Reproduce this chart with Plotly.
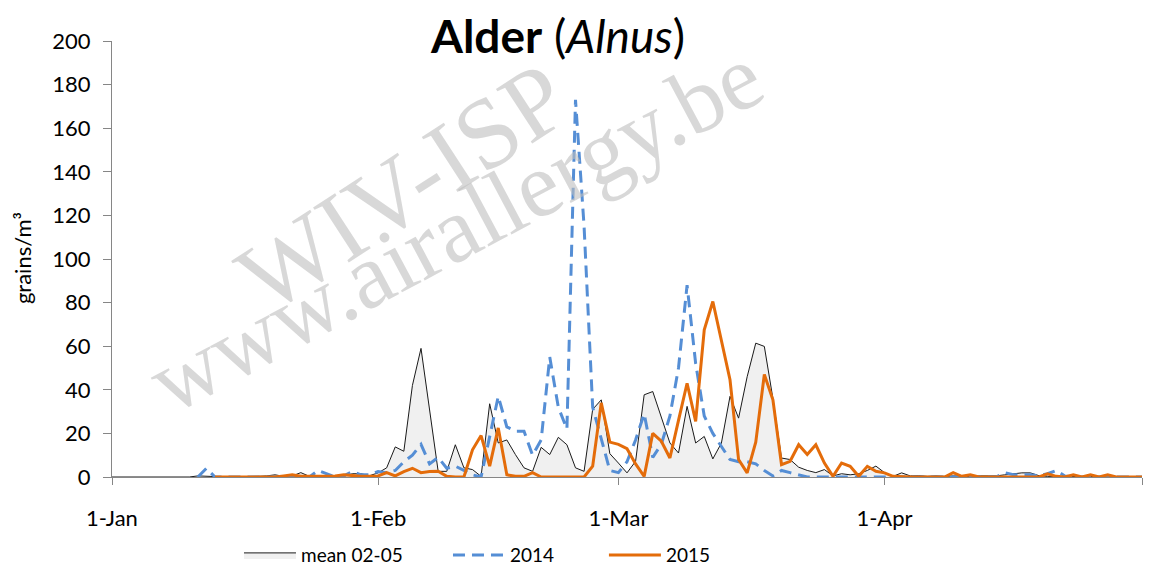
import pandas as pd
import plotly.graph_objects as go

# daily values, 1 Jan .. 1 May (grains/m3)
days = pd.date_range("2015-01-01", "2015-05-01", freq="D")

mean_02_05 = [
    0, 0, 0, 0, 0, 0, 0, 0, 0, 0,
    0.5, 0.5, 0.2, 0, 0, 0, 0, 0.3, 0.5, 1.0,
    0.3, 0.5, 2.0, 0.3, 0.5, 0.5, 0.4, 0.3, 1.5, 1.5,
    0.6, 1.9, 4.2, 13.8, 11.8, 42, 59, 30, 2.6, 2.6,
    14.8, 4.2, 3.4, 0.3, 33.6, 15.6, 17, 10.3, 4.2, 2.6,
    13.6, 10.3, 18.2, 14.8, 4.2, 2.6, 31, 35.4, 10.7, 6.4,
    1.9, 7.2, 37.7, 39.2, 27.8, 15.6, 11, 32.4, 15.6, 18.6,
    8.3, 15.6, 37, 27, 46, 61.4, 59.9, 36, 8.7, 8,
    4.5, 3, 2, 3.4, 0.5, 1.5, 1, 1.5, 3, 5,
    2, 0.3, 1.9, 0.5, 0.6, 0.3, 0.5, 0.3, 0.5, 0.3,
    0.3, 0.5, 0.6, 0.5, 1, 1.5, 1.9, 1.9, 0.6, 0.3,
    0.3, 0.2, 0.3, 0.2, 0.3, 0.2, 0.2, 0.3, 0.2, 0.2,
    0.2,
]

y2014 = [
    None, None, None, None, None, None, None, None, None, None,
    0, 4, 0, 0, 0, 0, 0, 0, 0, 0,
    0, 0, 0, 0, 3, 1.5, 0, 0.5, 2.5, 1,
    1, 2.5, 2, 3, 7, 10, 15, 6, 9, 4,
    5, 3, 1, 0, 18, 37, 23, 21, 21, 10,
    17, 55, 32, 22, 173, 115, 32, 17, 3, 2,
    7, 17, 29, 9, 15, 28, 50, 88, 52, 28,
    20, 14, 8, 7, 7, 6, 3, 0.5, 3, 2,
    1, 0, 0, 0, 0, 0, 0, 0, 0, 0,
    0, 0, 0, 0, 0, 0, 0, 0, 0, 0,
    0, 0, 0, 0, 2, 1, 1, 1, 0.5, 1.5,
    3, 0.5, 0, 0, 0, 0, 0, 0, 0, 0,
    0,
]

y2015 = [
    None, None, None, None, None, None, None, None, None, None,
    None, None, 0, 0, 0, 0, 0, 0, 0, 0,
    0.5, 1, 0.3, 0.3, 0.3, 0.3, 0.5, 1, 0.5, 0.3,
    0.3, 0.5, 2, 0.5, 2.5, 4, 2, 2.5, 2.6, 0.3,
    0, 0, 12.5, 19, 5, 22.5, 1, 0.3, 0.3, 2,
    0, 0, 0, 0, 0, 0, 5, 34, 16, 15,
    13, 6, 0.3, 20, 16.4, 8.7, 26, 43, 25.5, 67.5,
    80.5, 63, 44.6, 8, 1.9, 16, 47, 35.4, 5.7, 7.2,
    14.8, 10.3, 14.8, 6.4, 0.3, 6.4, 4.9, 0.3, 4.9, 2.6,
    1.9, 0.3, 0, 0, 0, 0, 0, 0, 2, 0.3,
    1, 0, 0, 0, 0, 0, 0, 0, 0, 1.5,
    0.3, 0, 1, 0, 1, 0, 1, 0, 0, 0,
    0,
]

tick_dates = ["2015-01-01", "2015-02-01", "2015-03-01", "2015-04-01", "2015-05-01"]
tick_text = ["1-Jan", "1-Feb", "1-Mar", "1-Apr", ""]

axis_grey = "#868686"
font_main = "Lato, 'Open Sans', sans-serif"
wm_font = dict(family="'Liberation Serif', 'DejaVu Serif', serif", color="rgba(190,190,190,0.6)")

fig = go.Figure()

fig.add_trace(go.Scatter(
    x=days, y=mean_02_05, name="mean 02-05", mode="lines",
    line=dict(color="#1a1a1a", width=1),
    fill="tozeroy", fillcolor="#f0f0f0",
    legend="legend",
))
fig.add_trace(go.Scatter(
    x=days, y=y2014, name="2014", mode="lines",
    line=dict(color="#558ED5", width=3, dash="12px,7px"),
    legend="legend2",
))
fig.add_trace(go.Scatter(
    x=days, y=y2015, name="2015", mode="lines",
    line=dict(color="#E46C0A", width=3),
    legend="legend3",
))

# watermark
fig.add_annotation(
    text="WIV-ISP", x=0.2826, y=0.663, xref="paper", yref="paper",
    xanchor="center", yanchor="middle",
    showarrow=False, textangle=-33, font=dict(size=100, **wm_font),
)
fig.add_annotation(
    text="www.airallergy.be", x=0.333, y=0.571, xref="paper", yref="paper",
    xanchor="center", yanchor="middle",
    showarrow=False, textangle=-28, font=dict(size=93, **wm_font),
)

# title
fig.add_annotation(
    text="<b>Alder</b> (<i>Alnus</i>)", x=0.433, y=1.0137, xref="paper", yref="paper",
    showarrow=False, xanchor="center", yanchor="middle",
    font=dict(family=font_main, size=46, color="#000000"),
)

# y axis title
fig.add_annotation(
    text="grains/m³", x=-0.0874, y=0.502, xref="paper", yref="paper",
    showarrow=False, textangle=-90, xanchor="center", yanchor="middle",
    font=dict(family=font_main, size=22, color="#000000"),
)

legend_style = dict(
    orientation="h", y=-0.179, xanchor="left", yanchor="middle",
    font=dict(family=font_main, size=19, color="#000000"),
    itemwidth=52, bgcolor="rgba(0,0,0,0)",
)

# page body adds an 8px offset, so the margins are shifted to compensate
fig.update_layout(
    width=1160, height=572,
    margin=dict(l=104, r=26, t=33, b=103, autoexpand=False),
    plot_bgcolor="white", paper_bgcolor="white",
    showlegend=True,
    legend=dict(x=0.1233, **legend_style),
    legend2=dict(x=0.3262, **legend_style),
    legend3=dict(x=0.4776, **legend_style),
    xaxis=dict(
        type="date",
        range=["2015-01-01", "2015-05-01"],
        tickvals=tick_dates, ticktext=tick_text,
        showgrid=False, zeroline=False,
        showline=True, linecolor=axis_grey, linewidth=1,
        ticks="outside", ticklen=7, tickcolor=axis_grey,
        ticklabelstandoff=15,
        tickfont=dict(family=font_main, size=22, color="#000000"),
    ),
    yaxis=dict(
        range=[0, 200], dtick=20,
        showgrid=False, zeroline=False,
        showline=True, linecolor=axis_grey, linewidth=1,
        ticks="outside", ticklen=8, tickcolor=axis_grey,
        ticklabelstandoff=8,
        tickfont=dict(family=font_main, size=22, color="#000000"),
    ),
)

fig.write_html("out.html")
